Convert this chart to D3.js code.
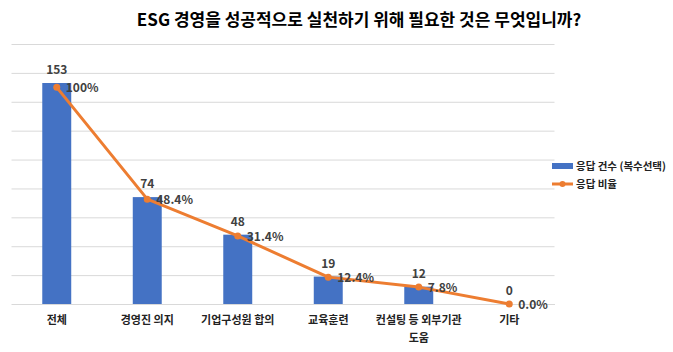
<!DOCTYPE html>
<html><head><meta charset="utf-8">
<script src="https://cdn.jsdelivr.net/npm/d3@7"></script>
<style>
body{margin:0;background:#fff;}
text{font-family:"Noto Sans CJK KR","Noto Sans",sans-serif;}
</style></head>
<body><svg id="c" width="673" height="352"></svg>
<script>
const title = "ESG 경영을 성공적으로 실천하기 위해 필요한 것은 무엇입니까?";
const categories = ["전체","경영진 의지","기업구성원 합의","교육훈련","컨설팅 등 외부기관 도움","기타"];
const counts = [153,74,48,19,12,0];
const ratios = [100,48.4,31.4,12.4,7.8,0.0];
const seriesNames = ["응답 건수 (복수선택)","응답 비율"];
const countTicks = [0,20,40,60,80,100,120,140,160,180];

(function(){
const svg = d3.select("#c");
const W=673,H=352;
svg.append("rect").attr("width",W).attr("height",H).attr("fill","#fff");
const pLeft=11.5,pRight=554.5,pTop=44,pBottom=304;
const blue="#4472C4", orange="#ED7D31";

const x=d3.scaleBand().domain(categories).range([pLeft,pRight]).paddingInner(0.68).paddingOuter(0.34);
const y=d3.scaleLinear().domain([0,180]).range([pBottom,pTop]);
const y2=d3.scaleLinear().domain([0,120]).range([pBottom,pTop]);

// title
svg.append("text").attr("x",359).attr("y",26).attr("text-anchor","middle")
 .attr("font-size",17).attr("font-weight","bold").attr("fill","#000").text(title);

// gridlines
const g=svg.append("g").attr("transform",`translate(${pLeft},0)`)
 .call(d3.axisLeft(y).tickValues(countTicks).tickSize(-(pRight-pLeft)).tickFormat(""));
g.select(".domain").remove();
g.selectAll(".tick line").attr("stroke","#d9d9d9").attr("stroke-width",1);

// bars
svg.append("g").selectAll("rect").data(categories).join("rect")
 .attr("x",d=>x(d)).attr("width",x.bandwidth())
 .attr("y",(d,i)=>y(counts[i])).attr("height",(d,i)=>pBottom-y(counts[i]))
 .attr("fill",blue);

// x axis labels
const xa=svg.append("g").attr("transform",`translate(0,${pBottom})`)
 .call(d3.axisBottom(x).tickSize(0).tickPadding(0));
xa.select(".domain").attr("stroke","#d9d9d9");
xa.selectAll(".tick text").attr("font-size",11).attr("font-weight","bold").attr("fill","#222")
 .attr("y",20).attr("dy",0)
 .each(function(d){
   const t=d3.select(this); const words=d.split(" "); t.text(null);
   let lines=[],cur="";
   const tmp=t.append("tspan");
   words.forEach(w=>{const test=cur?cur+" "+w:w; tmp.text(test);
     if(tmp.node().getComputedTextLength()>x.step()*0.95 && cur){lines.push(cur);cur=w;} else cur=test;});
   lines.push(cur); tmp.remove();
   lines.forEach((l,i)=>t.append("tspan").attr("x",0).attr("dy",i?18:0).text(l));
 });

// line
const cx=d=>x(d)+x.bandwidth()/2;
svg.append("path").datum(categories)
 .attr("d",d3.line().x(d=>cx(d)).y((d,i)=>y2(ratios[i])))
 .attr("fill","none").attr("stroke",orange).attr("stroke-width",3).attr("stroke-linejoin","round");
svg.append("g").selectAll("circle").data(categories).join("circle")
 .attr("cx",cx).attr("cy",(d,i)=>y2(ratios[i])).attr("r",3.5).attr("fill",orange);

// bar labels
svg.append("g").selectAll("text").data(categories).join("text")
 .attr("x",cx).attr("y",(d,i)=>y(counts[i])-9).attr("text-anchor","middle")
 .attr("font-size",12).attr("font-weight","bold").attr("fill","#404040")
 .text((d,i)=>counts[i]);
// ratio labels
svg.append("g").selectAll("text").data(categories).join("text")
 .attr("x",d=>cx(d)+9).attr("y",(d,i)=>y2(ratios[i])+5).attr("text-anchor","start")
 .attr("font-size",12).attr("font-weight","bold").attr("fill","#404040")
 .text((d,i)=>d3.format(".1f")(ratios[i]).replace(/^100\.0$/,"100")+"%");

// legend
const lg=svg.append("g");
lg.append("rect").attr("x",552).attr("y",163).attr("width",21).attr("height",6).attr("fill",blue);
lg.append("text").attr("x",576).attr("y",170).attr("font-size",10.5).attr("font-weight","bold").attr("fill","#222").text(seriesNames[0]);
lg.append("line").attr("x1",552).attr("x2",573).attr("y1",184).attr("y2",184).attr("stroke",orange).attr("stroke-width",3);
lg.append("circle").attr("cx",562.5).attr("cy",184).attr("r",3).attr("fill",orange);
lg.append("text").attr("x",576).attr("y",188).attr("font-size",10.5).attr("font-weight","bold").attr("fill","#222").text(seriesNames[1]);
})();
</script></body></html>
